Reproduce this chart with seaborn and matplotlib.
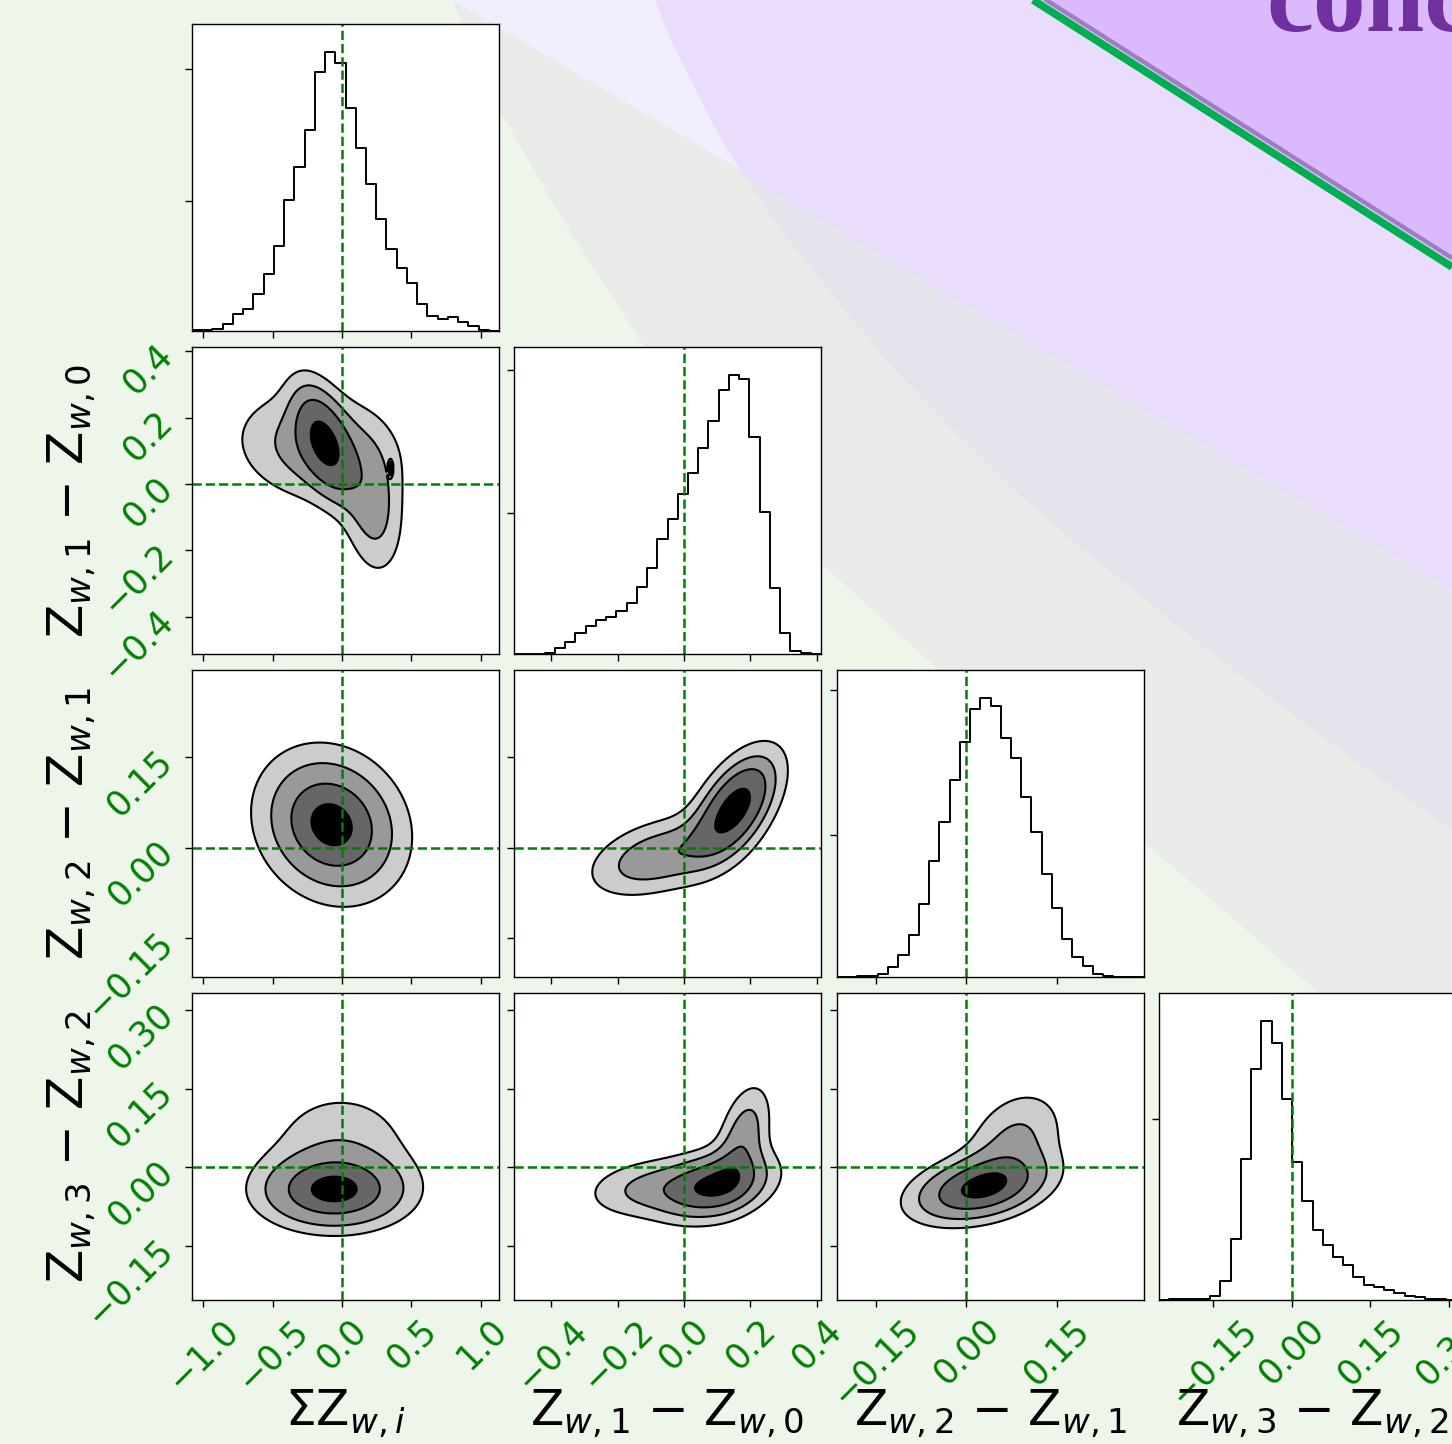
import numpy as np
import pandas as pd
import matplotlib
matplotlib.use("Agg")
import matplotlib.pyplot as plt
import seaborn as sns
from matplotlib.patches import Polygon

sns.set_theme(style="white")
plt.rcParams["font.family"] = ["DejaVu Sans"]
plt.rcParams["mathtext.fontset"] = "dejavusans"

W, H = 1452, 1444

# ---- data ----
LABELS = [r"$\Sigma$Z$_{w,i}$", r"Z$_{w,1}$ $-$ Z$_{w,0}$",
          r"Z$_{w,2}$ $-$ Z$_{w,1}$", r"Z$_{w,3}$ $-$ Z$_{w,2}$"]
RANGES = [(-1.08, 1.13), (-0.513, 0.413), (-0.214, 0.294), (-0.254, 0.333)]
TICKS = [[-1.0, -0.5, 0.0, 0.5, 1.0],
         [-0.4, -0.2, 0.0, 0.2, 0.4],
         [-0.15, 0.0, 0.15],
         [-0.15, 0.0, 0.15, 0.30]]
TICK_LABELS = [["\u22121.0", "\u22120.5", "0.0", "0.5", "1.0"],
               ["\u22120.4", "\u22120.2", "0.0", "0.2", "0.4"],
               ["\u22120.15", "0.00", "0.15"],
               ["\u22120.15", "0.00", "0.15", "0.30"]]
TRUTHS = [0.0, 0.0, 0.0, 0.0]

# 30-bin histograms across each axis range
HIST_0 = [2, 2, 7, 22, 50, 67, 110, 172, 256, 394, 492, 604, 777, 837, 804,
          670, 549, 442, 335, 246, 189, 144, 80, 44, 35, 42, 26, 14, 3, 0]
HIST_1 = [0, 0, 0, 2, 17, 37, 64, 84, 102, 112, 130, 152, 202, 257, 345,
          404, 479, 542, 617, 700, 792, 837, 824, 652, 427, 197, 62, 10, 2, 0]
HIST_2 = [0, 0, 2, 2, 10, 30, 65, 125, 217, 347, 465, 590, 702, 802, 835,
          810, 715, 655, 540, 435, 309, 205, 114, 60, 32, 10, 2, 0, 0, 0]
HIST_3 = [0, 3, 3, 3, 3, 13, 58, 183, 423, 695, 838, 773, 603, 413, 296,
          211, 165, 130, 106, 70, 46, 38, 31, 20, 13, 8, 3, 2, 1, 0]
HISTS = [HIST_0, HIST_1, HIST_2, HIST_3]
HIST_YTICKS = [[390, 785], [422, 852], [425, 860], [544]]

# 2-D posteriors as gaussian mixtures: (weight, mx, my, sx, sy, rho)
MIX_10 = [(0.33, -0.13, 0.13, 0.13, 0.10, -0.5),
          (0.47, -0.18, 0.11, 0.34, 0.10, -0.15),
          (0.195, 0.22, -0.07, 0.13, 0.12, -0.2),
          (0.005, 0.35, 0.047, 0.008, 0.012, 0.0)]
MIX_20 = [(1.0, -0.075, 0.038, 0.29, 0.068, -0.15)]
MIX_21 = [(0.62, 0.155, 0.068, 0.08, 0.055, 0.55),
          (0.38, -0.08, -0.015, 0.125, 0.04, 0.4)]
MIX_30 = [(0.7, -0.06, -0.045, 0.29, 0.04, 0.0),
          (0.3, -0.01, 0.04, 0.33, 0.07, 0.0)]
MIX_31 = [(0.55, 0.10, -0.035, 0.10, 0.04, 0.3),
          (0.25, -0.10, -0.04, 0.12, 0.035, 0.2),
          (0.20, 0.18, 0.06, 0.05, 0.06, 0.4)]
MIX_32 = [(0.7, 0.022, -0.04, 0.065, 0.038, 0.35),
          (0.3, 0.08, 0.05, 0.05, 0.06, 0.3)]
MIXES = {(1, 0): MIX_10, (2, 0): MIX_20, (2, 1): MIX_21,
         (3, 0): MIX_30, (3, 1): MIX_31, (3, 2): MIX_32}

# ---- layout (pixels) ----
LEFTS = [192, 514, 837, 1159]
TOPS = [24, 347, 670, 993]
SIZE = 307
GREEN = (0, 0.5, 0)
FILLS = ["#cccccc", "#999999", "#666666", "#000000"]


def mixture_density(mix, xr, yr, n=260):
    x = np.linspace(*xr, n)
    y = np.linspace(*yr, n)
    X, Y = np.meshgrid(x, y)
    Z = np.zeros_like(X)
    for w, mx, my, sx, sy, r in mix:
        dx, dy = (X - mx) / sx, (Y - my) / sy
        q = (dx**2 - 2 * r * dx * dy + dy**2) / (1 - r**2)
        Z += w * np.exp(-0.5 * q) / (2 * np.pi * sx * sy * np.sqrt(1 - r**2))
    return X, Y, Z


def sigma_levels(Z):
    flat = np.sort(Z.ravel())[::-1]
    cum = np.cumsum(flat)
    cum /= cum[-1]
    mass = 1 - np.exp(-0.5 * np.array([0.5, 1.0, 1.5, 2.0]) ** 2)
    return sorted(flat[np.searchsorted(cum, m)] for m in mass)


fig = plt.figure(figsize=(W / 100, H / 100), dpi=100)
fig.patch.set_facecolor("#eef5eb")

# ---- slide background (pixel coords) ----
bg = fig.add_axes([0, 0, 1, 1], zorder=-10)
bg.set_xlim(0, W)
bg.set_ylim(H, 0)
bg.axis("off")

curve_a = [(452, 0), (498, 107), (560, 215), (645, 348), (730, 460), (821, 563),
           (950, 680), (1082, 790), (1200, 890), (1310, 985), (1452, 1100)]
curve_b = [(655, 0), (672, 42), (691, 80), (715, 128), (743, 174), (780, 228),
           (821, 281), (885, 358), (952, 429), (1015, 490), (1082, 549),
           (1180, 628), (1277, 703), (1365, 768), (1452, 830)]
line_d = [(452, 0), (1452, 589)]

bg.add_patch(Polygon(curve_a + [(W, 0)], closed=True, color="#e9ebe8", lw=0))
bg.add_patch(Polygon(line_d + [(W, 0)], closed=True, color="#f3eefd", lw=0))
bg.add_patch(Polygon(curve_b + [(W, 0)], closed=True, color="#e5e4ec", lw=0))
bg.add_patch(Polygon(curve_b[:5] + [line_d[1], (W, 0)], closed=True,
                     color="#eadcfd", lw=0))
bg.add_patch(Polygon([(1040, 0), (W, 262), (W, 0)], closed=True, color="#dab9fd", lw=0))
bg.plot([1040, W], [-4, 258], color="#9d7cc0", lw=3, solid_capstyle="butt")
bg.plot([1033, W], [0, 267], color="#00b050", lw=5.5, solid_capstyle="butt")
fig.text(1266 / W, 1 - 31 / H, "conclusions", fontsize=76, fontweight="bold",
         family=["Liberation Serif", "DejaVu Serif"], color="#7030a0",
         ha="left", va="baseline")

# ---- corner plot ----
for i in range(4):
    for j in range(i + 1):
        ax = fig.add_axes([LEFTS[j] / W, 1 - (TOPS[i] + SIZE) / H, SIZE / W, SIZE / H])
        ax.set_facecolor("white")
        for s in ax.spines.values():
            s.set_color("black")
            s.set_linewidth(1.0)
        xr = RANGES[j]
        if i == j:
            edges = np.linspace(*xr, len(HISTS[i]) + 1)
            hist_df = pd.DataFrame({"x": 0.5 * (edges[1:] + edges[:-1]),
                                    "n": HISTS[i]})
            sns.histplot(data=hist_df, x="x", weights="n", bins=len(HISTS[i]),
                         binrange=xr, element="step", fill=False, color="black",
                         linewidth=1.4, ax=ax)
            ax.set_ylim(0, 1.1 * max(HISTS[i]))
            ax.set_yticks(HIST_YTICKS[i])
            ax.set_yticklabels([])
            ax.axvline(TRUTHS[i], color=GREEN, ls="--", lw=1.8)
        else:
            yr = RANGES[i]
            X, Y, Z = mixture_density(MIXES[(i, j)], xr, yr)
            V = sigma_levels(Z)
            ax.contourf(X, Y, Z, levels=V + [Z.max() * 1.0001], colors=FILLS)
            ax.contour(X, Y, Z, levels=V, colors="black", linewidths=1.5)
            ax.set_ylim(*yr)
            ax.set_yticks(TICKS[i])
            if j == 0:
                ax.set_yticklabels(TICK_LABELS[i], rotation=45)
                ax.set_ylabel(LABELS[i], fontsize=35, color="black")
                ax.yaxis.set_label_coords(-0.31, 0.5)
            else:
                ax.set_yticklabels([])
            ax.axvline(TRUTHS[j], color=GREEN, ls="--", lw=1.8)
            ax.axhline(TRUTHS[i], color=GREEN, ls="--", lw=1.8)
        ax.set_xlim(*xr)
        ax.set_xticks(TICKS[j])
        if i == 3:
            ax.set_xticklabels(TICK_LABELS[j], rotation=45)
            ax.set_xlabel(LABELS[j], fontsize=35, color="black")
            ax.xaxis.set_label_coords(0.5, -0.285)
        else:
            ax.set_xticklabels([])
            ax.set_xlabel("")
        if i == j:
            ax.set_ylabel("")
        ax.tick_params(direction="out", length=5, width=1, color="black",
                       labelcolor=GREEN, labelsize=25, bottom=True, left=True, pad=4)

fig.savefig("out.png", dpi=100, facecolor=fig.get_facecolor())
